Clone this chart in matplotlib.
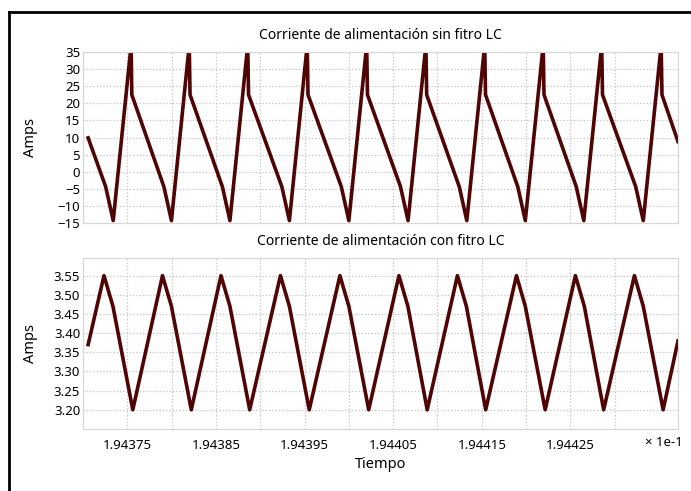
import matplotlib
matplotlib.use('Agg')
import matplotlib.pyplot as plt
from matplotlib.lines import Line2D

# Tiempo (x 1e-1 s) y corriente sin filtro LC: vertices de la forma de onda
t_sin = [1.9437058, 1.9437256, 1.9437341, 1.9437543, 1.9437551,
         1.9437913, 1.9437998, 1.9438199, 1.9438208,
         1.9438573, 1.9438658, 1.9438859, 1.9438868,
         1.9439244, 1.9439329, 1.9439530, 1.9439539,
         1.9439915, 1.9440000, 1.9440201, 1.9440210,
         1.9440583, 1.9440668, 1.9440869, 1.9440878,
         1.9441246, 1.9441331, 1.9441533, 1.9441542,
         1.9441906, 1.9441991, 1.9442193, 1.9442202,
         1.9442566, 1.9442651, 1.9442853, 1.9442862,
         1.9443237, 1.9443322, 1.9443524, 1.9443533,
         1.9443714]
i_sin = [9.9, -4.4, -14.3, 37, 22.5,
         -4.4, -14.3, 37, 22.5,
         -4.4, -14.3, 37, 22.5,
         -4.4, -14.3, 37, 22.5,
         -4.4, -14.3, 37, 22.5,
         -4.4, -14.3, 37, 22.5,
         -4.4, -14.3, 37, 22.5,
         -4.4, -14.3, 37, 22.5,
         -4.4, -14.3, 37, 22.5,
         -4.4, -14.3, 37, 22.5,
         8.8]

# Corriente con filtro LC
t_con = [1.9437058, 1.9437237, 1.9437338, 1.9437562,
         1.9437897, 1.9437998, 1.9438222,
         1.9438557, 1.9438658, 1.9438881,
         1.9439228, 1.9439329, 1.9439553,
         1.9439899, 1.9440000, 1.9440224,
         1.9440565, 1.9440666, 1.9440884,
         1.9441225, 1.9441326, 1.9441544,
         1.9441891, 1.9441991, 1.9442215,
         1.9442556, 1.9442657, 1.9442875,
         1.9443222, 1.9443322, 1.9443546,
         1.9443714]
i_con = [3.37, 3.55, 3.47, 3.20,
         3.55, 3.47, 3.20,
         3.55, 3.47, 3.20,
         3.55, 3.47, 3.20,
         3.55, 3.47, 3.20,
         3.55, 3.47, 3.20,
         3.55, 3.47, 3.20,
         3.55, 3.47, 3.20,
         3.55, 3.47, 3.20,
         3.55, 3.47, 3.20,
         3.38]

x_ticks = [1.94375, 1.94385, 1.94395, 1.94405, 1.94415, 1.94425]
x_labels = ['1.94375', '1.94385', '1.94395', '1.94405', '1.94415', '1.94425']
x_minor = [1.94370, 1.94380, 1.94390, 1.94400, 1.94410, 1.94420, 1.94430]
y_ticks_sin = [-15, -10, -5, 0, 5, 10, 15, 20, 25, 30, 35]
y_ticks_con = [3.20, 3.25, 3.30, 3.35, 3.40, 3.45, 3.50, 3.55]

plt.rcParams['font.family'] = ['Noto Sans', 'DejaVu Sans']
color = '#500505'
grid_col = '#c4c4c4'

fig = plt.figure(figsize=(6.91, 4.91), dpi=100)
ax1 = fig.add_axes([0.1201, 0.5458, 0.8611, 0.3483])
ax2 = fig.add_axes([0.1201, 0.1263, 0.8611, 0.3483])

for ax in (ax1, ax2):
    ax.set_xlim(1.9437058, 1.9443714)
    ax.set_xticks(x_ticks)
    ax.set_xticks(x_minor, minor=True)
    ax.grid(True, which='both', axis='x', color=grid_col, linestyle=':', linewidth=0.9)
    ax.grid(True, which='major', axis='y', color=grid_col, linestyle=':', linewidth=0.9)
    ax.tick_params(which='both', length=0, labelsize=9.5, pad=2)
    for s in ax.spines.values():
        s.set_color('#d8d8d8')
        s.set_linewidth(0.8)
    ax.set_axisbelow(True)

ax1.plot(t_sin, i_sin, color=color, linewidth=2.6)
ax1.set_ylim(-15, 35)
ax1.set_yticks(y_ticks_sin)
ax1.set_xticklabels([])
ax1.set_title('Corriente de alimentación sin fitro LC', fontsize=10, pad=9)

ax2.plot(t_con, i_con, color=color, linewidth=2.6)
ax2.set_ylim(3.15, 3.596)
ax2.set_yticks(y_ticks_con)
ax2.set_yticklabels(['%.2f' % v for v in y_ticks_con])
ax2.set_xticklabels(x_labels)
ax2.tick_params(axis='x', pad=7)
ax2.set_title('Corriente de alimentación con fitro LC', fontsize=10, pad=9)
ax2.set_xlabel('Tiempo', fontsize=10.5, labelpad=4)

# ylabels alineados a la misma x
for ax in (ax1, ax2):
    ax.set_ylabel('Amps', fontsize=10.5)
    ax.yaxis.set_label_coords(-0.076, 0.5)

fig.text(645 / 691, 1 - 443 / 491, '× 1e-1', ha='left', va='center', fontsize=9.5)

# marco negro (izquierda y arriba)
fig.add_artist(Line2D([9 / 691, 9 / 691], [0, 1 - 12 / 491], transform=fig.transFigure, color='black', linewidth=2))
fig.add_artist(Line2D([9 / 691, 1], [1 - 12 / 491, 1 - 12 / 491], transform=fig.transFigure, color='black', linewidth=2))

fig.savefig('out.png', dpi=100)
